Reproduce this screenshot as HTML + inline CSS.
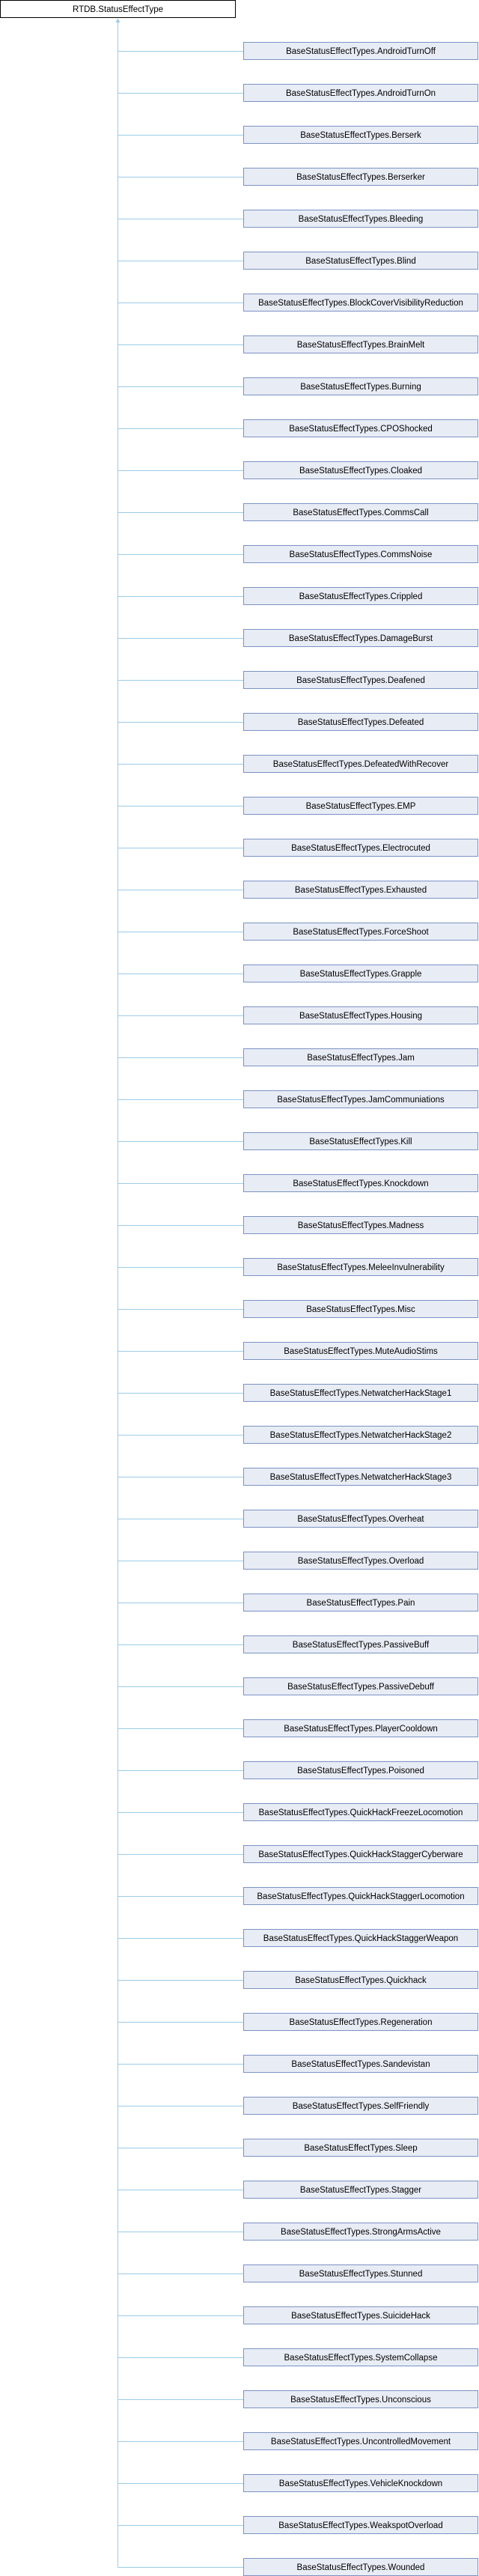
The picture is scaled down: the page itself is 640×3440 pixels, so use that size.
<!DOCTYPE html>
<html><head><meta charset="utf-8"><style>
html,body{margin:0;padding:0;background:#fff;}
svg{display:block;}
text{font-family:"Liberation Sans",Arial,sans-serif;font-size:11.5px;fill:#000;}
</style></head><body>
<svg id="s" width="640" height="3440" xmlns="http://www.w3.org/2000/svg">
<rect x="0.5" y="0.5" width="314" height="23" fill="#fff" stroke="#000"/>
<text x="157.5" y="16" text-anchor="middle">RTDB.StatusEffectType</text>
<line x1="157.5" y1="27" x2="157.5" y2="3428.5" stroke="#9ccbe8"/>
<polygon points="157.5,24.5 154.5,30 160.5,30" fill="#9ccbe8"/>
<g id="g"></g>
</svg>
<script>
var names=["AndroidTurnOff","AndroidTurnOn","Berserk","Berserker","Bleeding","Blind","BlockCoverVisibilityReduction","BrainMelt","Burning","CPOShocked","Cloaked","CommsCall","CommsNoise","Crippled","DamageBurst","Deafened","Defeated","DefeatedWithRecover","EMP","Electrocuted","Exhausted","ForceShoot","Grapple","Housing","Jam","JamCommuniations","Kill","Knockdown","Madness","MeleeInvulnerability","Misc","MuteAudioStims","NetwatcherHackStage1","NetwatcherHackStage2","NetwatcherHackStage3","Overheat","Overload","Pain","PassiveBuff","PassiveDebuff","PlayerCooldown","Poisoned","QuickHackFreezeLocomotion","QuickHackStaggerCyberware","QuickHackStaggerLocomotion","QuickHackStaggerWeapon","Quickhack","Regeneration","Sandevistan","SelfFriendly","Sleep","Stagger","StrongArmsActive","Stunned","SuicideHack","SystemCollapse","Unconscious","UncontrolledMovement","VehicleKnockdown","WeakspotOverload","Wounded"];
var h="";
for(var i=0;i<names.length;i++){var t=56+56*i;
h+='<line x1="157.5" y1="'+(t+12.5)+'" x2="325" y2="'+(t+12.5)+'" stroke="#9ccbe8"/>';
h+='<rect x="325.5" y="'+(t+0.5)+'" width="313" height="23" fill="#e8ecf5" stroke="#7b92c4"/>';
h+='<text x="482" y="'+(t+16)+'" text-anchor="middle">BaseStatusEffectTypes.'+names[i]+'</text>';}
document.getElementById("g").innerHTML=h;
</script>
</body></html>
